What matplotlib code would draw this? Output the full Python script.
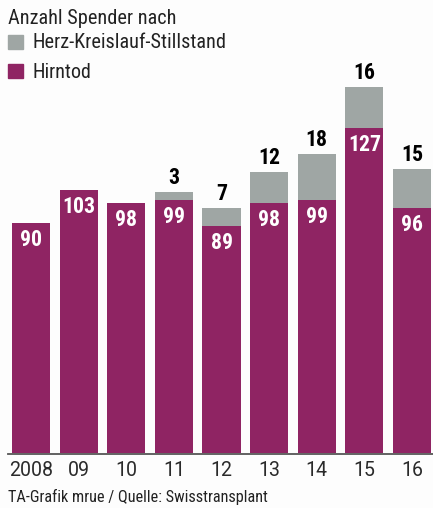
import matplotlib
matplotlib.use("Agg")
import matplotlib.pyplot as plt
from matplotlib.patches import Rectangle
from matplotlib.lines import Line2D

years = ["2008", "09", "10", "11", "12", "13", "14", "15", "16"]
hirntod = [90, 103, 98, 99, 89, 98, 99, 127, 96]
herz = [0, 0, 0, 3, 7, 12, 18, 16, 15]

title = "Anzahl Spender nach"
legend_labels = ["Herz-Kreislauf-Stillstand", "Hirntod"]
source = "TA-Grafik mrue / Quelle: Swisstransplant"

MAGENTA = "#8f2463"
GREY = "#9fa6a4"
TXT = "#222222"
FONT = ["Roboto Condensed", "DejaVu Sans"]
plt.rcParams["font.family"] = FONT

W, H = 433, 508
fig = plt.figure(figsize=(W / 100, H / 100), dpi=100)
fig.patch.set_facecolor("#fdfdfd")
renderer = fig.canvas.get_renderer()

def fx(px):
    return px / W

def fy(py):
    return 1 - py / H

def fit(t, target_px):
    w = t.get_window_extent(renderer).width
    t.set_fontsize(t.get_fontsize() * target_px / w)

ax_left, ax_right = 12, 431
ax_top, ax_bot = 60, 453
ax = fig.add_axes([fx(ax_left), fy(ax_bot), (ax_right - ax_left) / W, (ax_bot - ax_top) / H])
ax.set_facecolor("none")

x = list(range(len(years)))
ax.bar(x, hirntod, width=0.8, color=MAGENTA, linewidth=0)
ax.bar(x, herz, width=0.8, bottom=hirntod, color=GREY, linewidth=0)
ax.set_xlim(-0.4, len(years) - 0.6)
ax.set_ylim(0, (ax_bot - ax_top) / 2.556)

for i, (h, g) in enumerate(zip(hirntod, herz)):
    t = ax.annotate(str(h), (i, h), xytext=(0, -17), textcoords="offset pixels",
                    ha="center", va="center", color="white", fontsize=15, fontweight="bold")
    if i == 1:
        fit(t, 33)
        vsize = t.get_fontsize()
    if g > 0:
        ax.annotate(str(g), (i, h + g), xytext=(0, 14), textcoords="offset pixels",
                    ha="center", va="center", color="black", fontsize=15, fontweight="bold")
for t in ax.texts:
    t.set_fontsize(vsize)

for s in ["top", "right", "left", "bottom"]:
    ax.spines[s].set_visible(False)
fig.add_artist(Line2D([fx(8), 1.0], [fy(453.5), fy(453.5)], transform=fig.transFigure,
                      color="#555555", linewidth=1.3))
ax.set_yticks([])
ax.set_xticks(x)
labels = ax.set_xticklabels(years, fontsize=17, color="#2a2a2a", fontweight="normal",
                            family=["Roboto", "DejaVu Sans"])
ax.tick_params(axis="x", length=0, pad=6)
fit(labels[0], 44)
for lb in labels:
    lb.set_fontsize(labels[0].get_fontsize())

t = fig.text(fx(8), fy(18), title, fontsize=14, color=TXT, ha="left", va="center")
fit(t, 169)
fig.patches.append(Rectangle((fx(8), fy(49)), fx(15), 14 / H, transform=fig.transFigure,
                             color=GREY, figure=fig))
t = fig.text(fx(32), fy(43), legend_labels[0], fontsize=14, color=TXT, ha="left", va="center")
fit(t, 195)
fig.patches.append(Rectangle((fx(8), fy(78)), fx(15), 14 / H, transform=fig.transFigure,
                             color=MAGENTA, figure=fig))
t = fig.text(fx(33), fy(72), legend_labels[1], fontsize=14, color=TXT, ha="left", va="center")
fit(t, 59)
t = fig.text(fx(8), fy(497), source, fontsize=11, color=TXT, ha="left", va="center")
fit(t, 260)

fig.savefig("out.png", dpi=100, facecolor=fig.get_facecolor())
